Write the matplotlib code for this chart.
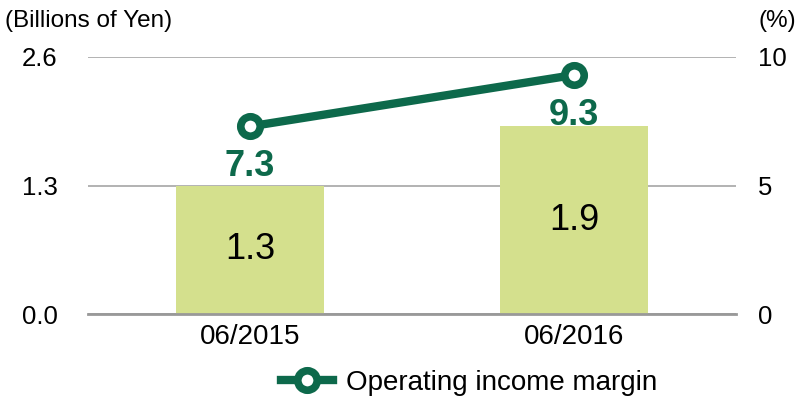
import matplotlib
matplotlib.use("Agg")
import matplotlib.pyplot as plt
from matplotlib.lines import Line2D

plt.rcParams['font.family'] = ['Liberation Sans', 'DejaVu Sans']

categories = ["06/2015", "06/2016"]
income = [1.3, 1.9]
margin = [7.3, 9.3]
left_ticks = [0.0, 1.3, 2.6]
left_tick_labels = ["0.0", "1.3", "2.6"]
right_ticks = [0, 5, 10]
right_tick_labels = ["0", "5", "10"]
legend_label = "Operating income margin"
left_unit = "(Billions of Yen)"
right_unit = "(%)"

BAR = "#D4E08D"
GREEN = "#0D694B"
GRID = "#A6A6A6"

fig = plt.figure(figsize=(8, 4), dpi=100)
ax = fig.add_axes([0.11, 0.215, 0.81, 0.6425])
x = list(range(len(categories)))
bars = ax.bar(x, income, width=0.455, color=BAR, zorder=2)
ax.set_xlim(-0.5, 1.5)
ax.set_ylim(0, 2.6)
ax.set_yticks(left_ticks)
ax.set_yticklabels(left_tick_labels, fontsize=18.5)
ax.set_xticks(x)
ax.set_xticklabels(categories, fontsize=20)
ax.tick_params(axis='both', length=0)
ax.tick_params(axis='y', pad=22)
ax.tick_params(axis='x', pad=7)
ax.yaxis.grid(True, color=GRID, linewidth=1.2)
ax.set_axisbelow(True)
for s in ['top', 'right', 'left']:
    ax.spines[s].set_visible(False)
ax.spines['bottom'].set_color("#999999")
ax.spines['bottom'].set_linewidth(2)
ax.spines['bottom'].set_zorder(3)

for b, v in zip(bars, income):
    ax.text(b.get_x() + b.get_width() / 2, v / 2, f"{v:.1f}", ha='center', va='center',
            fontsize=26, color='black', zorder=4)

ax2 = ax.twinx()
ax2.set_ylim(0, 10)
ax2.spines['right'].set_position(('outward', 16))
ax2.yaxis.set_tick_params(which='major', length=0, pad=0, labelsize=18.5,
                          left=False, labelleft=False, right=True, labelright=True)
ax2.set_yticks(right_ticks)
ax2.set_yticklabels(right_tick_labels, fontsize=18.5)
for s in ax2.spines.values():
    s.set_visible(False)
ax2.plot(x, margin, color=GREEN, linewidth=6, marker='o', markersize=14,
         markerfacecolor='white', markeredgecolor=GREEN, markeredgewidth=5.5, zorder=5)
for xi, m in zip(x, margin):
    ax2.annotate(f"{m:.1f}", (xi, m), xytext=(0, -29), textcoords='offset points',
                 ha='center', va='center', fontsize=26, fontweight='bold', color=GREEN)

fig.text(0.006, 0.947, left_unit, fontsize=17.5, ha='left', va='center')
fig.text(0.9475, 0.947, right_unit, fontsize=17.5, ha='left', va='center')

handle = Line2D([], [], color=GREEN, linewidth=6, marker='o', markersize=14,
                markerfacecolor='white', markeredgecolor=GREEN, markeredgewidth=5.5)
fig.legend([handle], [legend_label], loc='center', bbox_to_anchor=(0.586, 0.0425),
           frameon=False, fontsize=20, handlelength=1.9, handletextpad=0.45,
           borderpad=0, borderaxespad=0)

fig.savefig("out.png", dpi=100)
